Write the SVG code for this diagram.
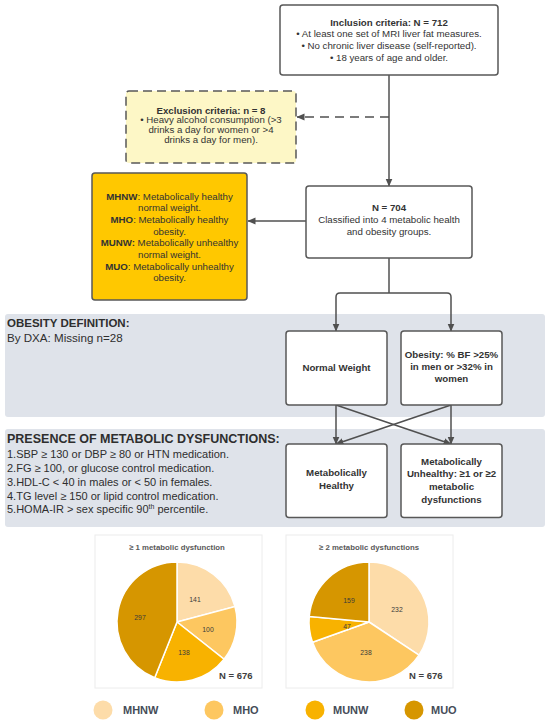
<svg xmlns="http://www.w3.org/2000/svg" width="550" height="722" viewBox="0 0 550 722">
<defs>
<marker id="ah" viewBox="0 0 8 8" refX="7.5" refY="4" markerWidth="8" markerHeight="8" markerUnits="userSpaceOnUse" orient="auto">
<path d="M0,0.5 L8,4 L0,7.5 z" fill="#505050"/>
</marker>
<style>
text{font-family:"Liberation Sans",Arial,sans-serif;fill:#333}
.box{fill:#fff;stroke:#585858;stroke-width:1.5}
.t{font-size:9.7px;text-anchor:middle}
.b{font-weight:bold}
.panel{fill:#dfe3ea}
.head{font-size:11.5px;font-weight:bold;fill:#2e2e2e}
.lst{font-size:11px;fill:#2e2e2e}
.con{fill:none;stroke:#505050;stroke-width:1.5}
.sl{stroke:#fff;stroke-width:1.5}
.c1{fill:#fddca9}.c2{fill:#fdc760}.c3{fill:#f8b200}.c4{fill:#d69600}
.pl{font-size:6.8px;text-anchor:middle;fill:#3a3a3a}
.pt{font-size:7.8px;font-weight:bold;text-anchor:middle;fill:#595959}
.nn{font-size:9.5px;font-weight:bold;fill:#404040}
.lg{font-size:11px;font-weight:bold;fill:#454c58}
</style>
</defs>
<rect width="550" height="722" fill="#fff"/>

<g id="panel-obesity">
<rect class="panel" x="5" y="314" width="540" height="103" rx="3"/>
<text class="head" x="7" y="327">OBESITY DEFINITION:</text>
<text class="lst" x="7" y="341.5" style="font-size:11.6px">By DXA: Missing n=28</text>
</g>
<g id="panel-metabolic">
<rect class="panel" x="5" y="429" width="540" height="98" rx="3"/>
<text class="head" x="7" y="442.5" style="font-size:12.5px">PRESENCE OF METABOLIC DYSFUNCTIONS:</text>
<text class="lst" x="7" y="458">1.SBP ≥ 130 or DBP ≥ 80 or HTN medication.</text>
<text class="lst" x="7" y="472">2.FG ≥ 100, or glucose control medication.</text>
<text class="lst" x="7" y="486">3.HDL-C &lt; 40 in males or &lt; 50 in females.</text>
<text class="lst" x="7" y="499.5">4.TG level ≥ 150 or lipid control medication.</text>
<text class="lst" x="7" y="513">5.HOMA-IR &gt; sex specific 90<tspan dy="-4" font-size="7px">th</tspan><tspan dy="4"> percentile.</tspan></text>
</g>

<g id="connectors">
<path class="con" d="M389,75 V186" marker-end="url(#ah)"/>
<path class="con" d="M389,117 H297" stroke-dasharray="9 6" marker-end="url(#ah)"/>
<path class="con" d="M306,221 H248" marker-end="url(#ah)"/>
<path class="con" d="M389,258 V293"/>
<path class="con" d="M389,293 H340 Q336,293 336,297 V331" marker-end="url(#ah)"/>
<path class="con" d="M389,293 H447 Q451,293 451,297 V331" marker-end="url(#ah)"/>
<path class="con" d="M336,405 V444" marker-end="url(#ah)"/>
<path class="con" d="M451,405 V444" marker-end="url(#ah)"/>
<path class="con" d="M336,405 L451,444" marker-end="url(#ah)"/>
<path class="con" d="M451,405 L336,444" marker-end="url(#ah)"/>
</g>

<g id="inclusion">
<rect class="box" x="280" y="5" width="218" height="70" rx="3"/>
<text class="t b" x="389" y="25.5">Inclusion criteria: N = 712</text>
<text class="t" x="389" y="37.2">• At least one set of MRI liver fat measures.</text>
<text class="t" x="389" y="48.9">• No chronic liver disease (self-reported).</text>
<text class="t" x="389" y="60.6">• 18 years of age and older.</text>
</g>

<g id="exclusion">
<rect x="126" y="91" width="170" height="72" rx="3" fill="#fdf7c6" stroke="#585858" stroke-width="1.5" stroke-dasharray="9 5"/>
<text class="t b" x="211" y="113.5">Exclusion criteria: n = 8</text>
<text class="t" x="211" y="123.3">• Heavy alcohol consumption (&gt;3</text>
<text class="t" x="211" y="133.1">drinks a day for women or &gt;4</text>
<text class="t" x="211" y="142.9">drinks a day for men).</text>
</g>

<g id="n704">
<rect class="box" x="306" y="186" width="166" height="72" rx="3"/>
<text class="t b" x="389" y="210.5">N = 704</text>
<text class="t" x="389" y="222.5">Classified into 4 metabolic health</text>
<text class="t" x="389" y="235">and obesity groups.</text>
</g>

<g id="groups">
<rect x="92" y="173" width="155" height="127" rx="3" fill="#ffc800" stroke="#585858" stroke-width="1.5"/>
<text class="t" x="169.5" y="199.5"><tspan class="b">MHNW</tspan>: Metabolically healthy</text>
<text class="t" x="169.5" y="211.2">normal weight.</text>
<text class="t" x="169.5" y="222.9"><tspan class="b">MHO</tspan>: Metabolically healthy</text>
<text class="t" x="169.5" y="234.6">obesity.</text>
<text class="t" x="169.5" y="246.3"><tspan class="b">MUNW:</tspan> Metabolically unhealthy</text>
<text class="t" x="169.5" y="258">normal weight.</text>
<text class="t" x="169.5" y="269.7"><tspan class="b">MUO</tspan>: Metabolically unhealthy</text>
<text class="t" x="169.5" y="281.4">obesity.</text>
</g>

<g id="normal-weight">
<rect class="box" x="286" y="331" width="101" height="74" rx="3"/>
<text class="t b" x="336.5" y="371">Normal Weight</text>
</g>
<g id="obesity">
<rect class="box" x="401" y="331" width="101" height="74" rx="3"/>
<text class="t b" x="451.5" y="357.5">Obesity: % BF &gt;25%</text>
<text class="t b" x="451.5" y="369.5">in men or &gt;32% in</text>
<text class="t b" x="451.5" y="381.5">women</text>
</g>
<g id="healthy">
<rect class="box" x="286" y="444" width="101" height="73.5" rx="3"/>
<text class="t b" x="336.5" y="476">Metabolically</text>
<text class="t b" x="336.5" y="488.5">Healthy</text>
</g>
<g id="unhealthy">
<rect class="box" x="401" y="444" width="101" height="73.5" rx="3"/>
<text class="t b" x="451.5" y="465">Metabolically</text>
<text class="t b" x="451.5" y="477">Unhealthy: ≥1 or ≥2</text>
<text class="t b" x="451.5" y="489.5">metabolic</text>
<text class="t b" x="451.5" y="502.5">dysfunctions</text>
</g>

<g id="pie1">
<rect x="95" y="535" width="167" height="153" fill="#fff" stroke="#ececec" stroke-width="1"/>
<text class="pt" x="177" y="550">≥ 1 metabolic dysfunction</text>
<path class="c1 sl" d="M177,622 L177,562 A60,60 0 0,1 234.98,606.56 Z"/>
<path class="c2 sl" d="M177,622 L234.98,606.56 A60,60 0 0,1 224.05,659.22 Z"/>
<path class="c3 sl" d="M177,622 L224.05,659.22 A60,60 0 0,1 154.69,677.70 Z"/>
<path class="c4 sl" d="M177,622 L154.69,677.70 A60,60 0 0,1 177,562 Z"/>
<text class="pl" x="195" y="601.5">141</text>
<text class="pl" x="208" y="631.5">100</text>
<text class="pl" x="184" y="654.5">138</text>
<text class="pl" x="140" y="619.5">297</text>
<text class="nn" x="219" y="679">N = 676</text>
</g>

<g id="pie2">
<rect x="286" y="535" width="167" height="153" fill="#fff" stroke="#ececec" stroke-width="1"/>
<text class="pt" x="369" y="550">≥ 2 metabolic dysfunctions</text>
<path class="c1 sl" d="M369,622 L369,562 A60,60 0 0,1 419.0,655.16 Z"/>
<path class="c2 sl" d="M369,622 L419.0,655.16 A60,60 0 0,1 312.51,642.23 Z"/>
<path class="c3 sl" d="M369,622 L312.51,642.23 A60,60 0 0,1 309.26,616.43 Z"/>
<path class="c4 sl" d="M369,622 L309.26,616.43 A60,60 0 0,1 369,562 Z"/>
<text class="pl" x="397" y="611.5">232</text>
<text class="pl" x="366" y="654.5">238</text>
<text class="pl" x="347" y="628.5">47</text>
<text class="pl" x="349" y="602.5">159</text>
<text class="nn" x="409" y="679">N = 676</text>
</g>

<g id="legend">
<circle class="c1" cx="103" cy="710" r="9.5"/>
<text class="lg" x="123" y="714">MHNW</text>
<circle class="c2" cx="214" cy="710" r="9.5"/>
<text class="lg" x="233" y="714">MHO</text>
<circle class="c3" cx="315" cy="710" r="9.5"/>
<text class="lg" x="333" y="714">MUNW</text>
<circle class="c4" cx="414" cy="710" r="9.5"/>
<text class="lg" x="431" y="714">MUO</text>
</g>
</svg>
